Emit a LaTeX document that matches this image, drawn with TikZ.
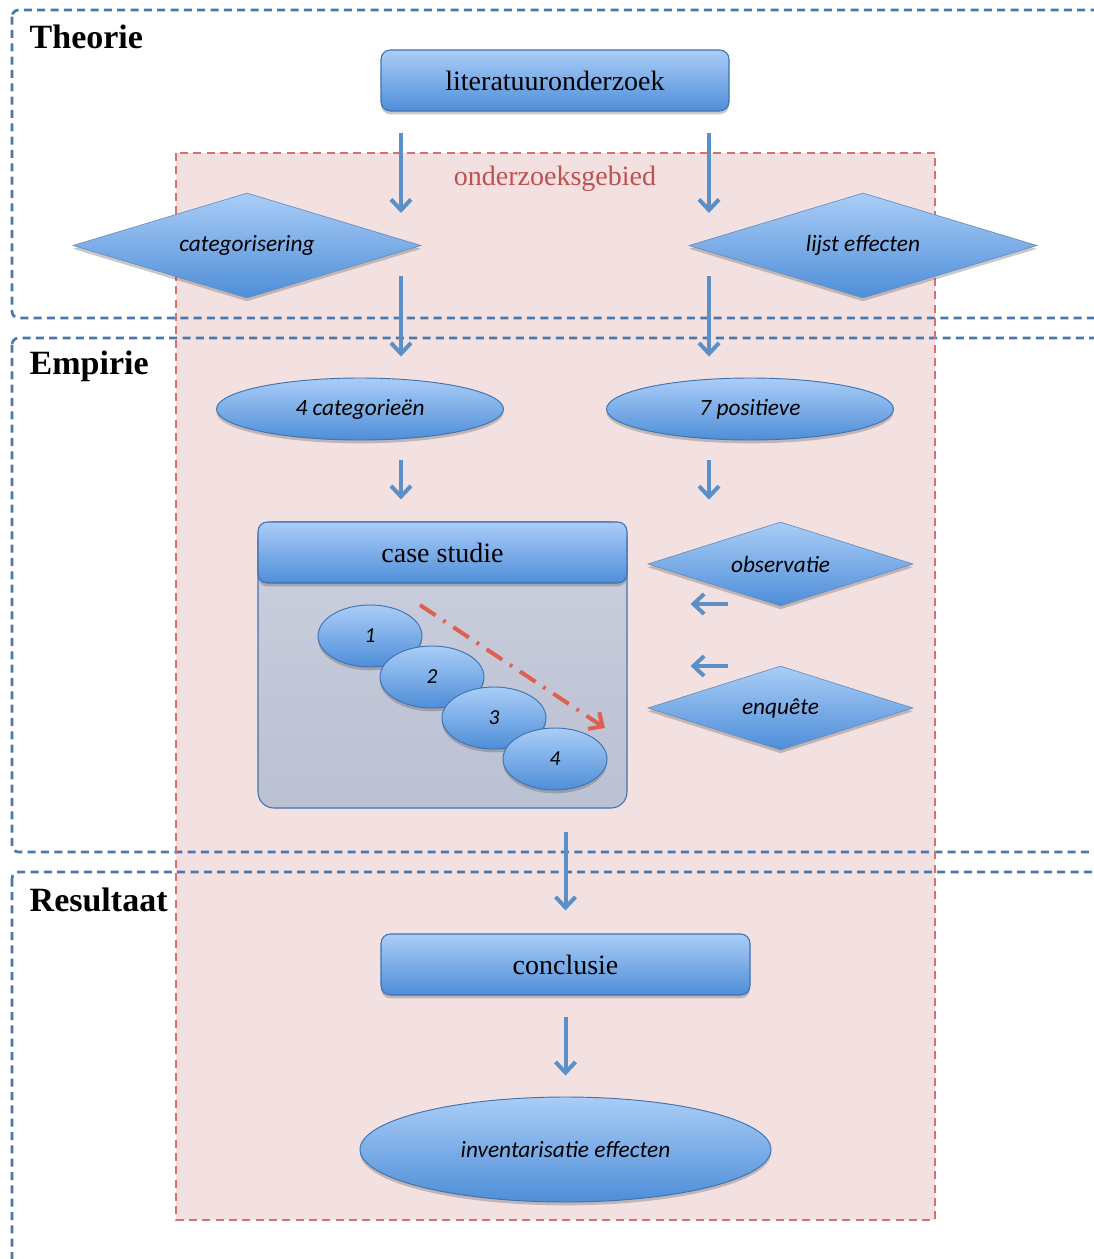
\documentclass[tikz,border=0pt]{standalone}
\usepackage{fontspec}
\setmainfont{Liberation Serif}
\newfontfamily\carlito{Carlito}
\usetikzlibrary{shapes.geometric,shadows,arrows.meta,calc}
\definecolor{btop}{HTML}{AACDF7}
\definecolor{bbot}{HTML}{4E8ED8}
\definecolor{bline}{HTML}{3E72B0}
\definecolor{arrc}{HTML}{5B8FC7}
\definecolor{framec}{HTML}{4A78AC}
\definecolor{pinkf}{HTML}{F3E1E2}
\definecolor{redl}{HTML}{D9706E}
\definecolor{redt}{HTML}{C0504D}
\definecolor{redarrow}{HTML}{E0604F}
\definecolor{gtop}{HTML}{CDCFDD}
\definecolor{gbot}{HTML}{BAC1D3}
\tikzset{
  shad/.style={drop shadow={opacity=0.3,shadow xshift=0pt,shadow yshift=-2.5pt,fill=black!70}},
  box/.style={rectangle, rounded corners=7pt, draw=bline, line width=0.8pt, top color=btop, bottom color=bbot, shad, font=\fontsize{21}{24}\selectfont, inner sep=0pt},
  dia/.style={diamond, aspect=3.3, inner sep=0pt, draw=bline!80, line width=0.5pt, top color=btop, bottom color=bbot, shad, font=\carlito\itshape\fontsize{17.5}{20}\selectfont},
  ell/.style={ellipse, inner sep=0pt, draw=bline, line width=0.7pt, top color=btop, bottom color=bbot, shad, font=\carlito\itshape\fontsize{17.5}{20}\selectfont},
  numell/.style={ell, minimum width=104*0.75pt, minimum height=62*0.75pt, font=\carlito\itshape\fontsize{16}{18}\selectfont},
  casebody/.style={rectangle, rounded corners=12pt, draw=bline, line width=0.8pt, top color=gtop, bottom color=gbot, inner sep=0pt},
  arr/.style={draw=arrc, line width=3pt, -{Straight Barb[length=8pt,width=15pt]}},
  redarr/.style={draw=redarrow, line width=3pt, dash pattern=on 14pt off 7pt on 2pt off 7pt, -{Straight Barb[length=8pt,width=15pt]}},
  frame/.style={draw=framec, line width=2pt, dash pattern=on 6pt off 4pt, rounded corners=5pt},
  sect/.style={anchor=west, font=\bfseries\fontsize{25.5}{28}\selectfont}
}
\begin{document}
\begin{tikzpicture}[x=0.75pt,y=-0.75pt]
\useasboundingbox (0,0) rectangle (1093,1259);
\fill[white] (0,0) rectangle (1093,1259);
% onderzoeksgebied region
\fill[pinkf] (176,153) rectangle (935,1220);
% section frames
\draw[frame] (12,10) rectangle (1115,318);
\draw[frame] (12,338) rectangle (1115,852);
\draw[frame] (12,872) rectangle (1115,1290);
\draw[redl, line width=1.5pt, dash pattern=on 6pt off 4pt] (176,153) rectangle (935,1220);
% section titles
\node[sect] (tTheo) at (25,37) {Theorie};
\node[sect] (tEmp) at (25,366) {Empirie};
\node[sect] (tRes) at (25,900) {Resultaat};
\node[text=redt, font=\fontsize{21}{24}\selectfont] (og) at (555,179) {onderzoeksgebied};
% columns / rows
\coordinate (colL) at (401,0);
\coordinate (colR) at (709,0);
\coordinate (r1) at (0,604);
\coordinate (r2) at (0,666);
% nodes
\node[box, minimum width=348*0.75pt, minimum height=61*0.75pt] (lit) at (555,80.5) {literatuuronderzoek};
\node[dia, minimum width=348*0.75pt, minimum height=105*0.75pt] (cat) at (247,245.5) {categorisering};
\node[dia, minimum width=348*0.75pt, minimum height=105*0.75pt] (lij) at (863,245.5) {lijst effecten};
\node[ell, minimum width=287*0.75pt, minimum height=62*0.75pt] (c4) at (360,409) {4 categorieën};
\node[ell, minimum width=287*0.75pt, minimum height=62*0.75pt] (p7) at (750,409) {7 positieve};
\node[casebody, minimum width=369*0.75pt, minimum height=286*0.75pt] (case) at (442.5,665) {};
\node[box, minimum width=369*0.75pt, minimum height=61*0.75pt] (head) at (442.5,552.5) {case studie};
\node[numell] (e1) at (370,636) {1};
\node[numell] (e2) at (432,677) {2};
\node[numell] (e3) at (494,718) {3};
\node[numell] (e4) at (555,759) {4};
\node[dia, minimum width=265*0.75pt, minimum height=84*0.75pt] (obs) at (780.5,564) {observatie};
\node[dia, minimum width=265*0.75pt, minimum height=84*0.75pt] (enq) at (780.5,708) {enquête};
\node[box, minimum width=369*0.75pt, minimum height=61*0.75pt] (conc) at (565.5,964.5) {conclusie};
\node[ell, minimum width=411*0.75pt, minimum height=105*0.75pt] (inv) at (565.5,1149.5) {inventarisatie effecten};
% arrows
\draw[arr, shorten <=21*0.75pt, shorten >=32.5*0.75pt] (lit.south -| colL) -- (cat.east -| colL);
\draw[arr, shorten <=21*0.75pt, shorten >=32.5*0.75pt] (lit.south -| colR) -- (lij.west -| colR);
\draw[arr, shorten <=30.5*0.75pt, shorten >=21*0.75pt] (cat.east -| colL) -- (c4.north -| colL);
\draw[arr, shorten <=30.5*0.75pt, shorten >=21*0.75pt] (lij.west -| colR) -- (p7.north -| colR);
\draw[arr, shorten <=20*0.75pt, shorten >=22*0.75pt] (c4.south -| colL) -- (head.north -| colL);
\draw[arr, shorten <=20*0.75pt, shorten >=22*0.75pt] (p7.south -| colR) -- (obs.north -| colR);
\draw[arr, shorten <=52.5*0.75pt, shorten >=63*0.75pt] (r1 -| obs.south) -- (r1 -| case.east);
\draw[arr, shorten <=52.5*0.75pt, shorten >=63*0.75pt] (r2 -| enq.north) -- (r2 -| case.east);
\draw[arr, shorten <=23*0.75pt, shorten >=23*0.75pt] (case.south -| conc.north) -- (conc.north);
\draw[arr, shorten <=21*0.75pt, shorten >=21*0.75pt] (conc.south) -- (inv.north);
\draw[redarr] ([shift={(50,-31)}]e1.center) -- ([shift={(50,-31)}]e4.center);
\end{tikzpicture}
\end{document}
